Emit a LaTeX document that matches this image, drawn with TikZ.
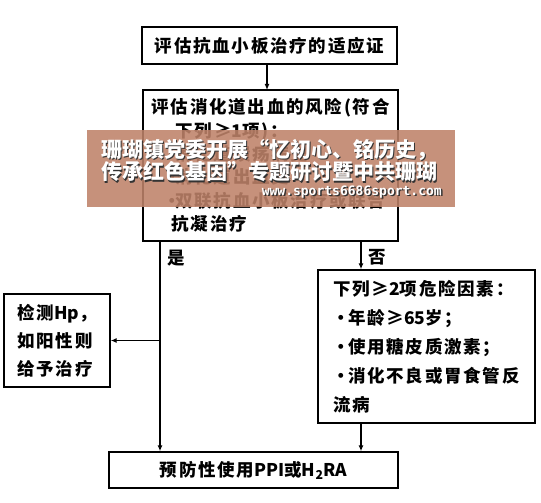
\documentclass[tikz,border=0pt]{standalone}
\usepackage{fontspec}
\usepackage{tikz}
\usetikzlibrary{arrows.meta}
\newfontfamily\cjk[LetterSpace=10]{Noto Sans CJK SC}
\newfontfamily\wmfont{Noto Sans CJK SC}
\newfontfamily\wmmono{DejaVu Sans Mono}
\newcommand\lat[1]{{\wmfont\bfseries #1}}
\definecolor{wmbrown}{RGB}{190,130,105}

\begin{document}
\begin{tikzpicture}[x=1pt,y=-1pt,
    every node/.style={font=\cjk\bfseries\fontsize{17.5}{23.4}\selectfont},
    box/.style={draw,line width=1.4pt,inner sep=0pt,align=left},
    arr/.style={line width=1.3pt,-{Latex[length=6pt,width=5pt]}},
    wmtext/.style={font=\wmfont\bfseries\fontsize{21}{21}\selectfont,inner sep=0pt}]
    \useasboundingbox (0,0) rectangle (541,503);

    \node[box,minimum width=255pt,minimum height=37pt] (assess) at (269.5,45.5) {评估抗血小板治疗的适应证};
    \node[box,minimum width=255pt,minimum height=151pt] (risk) at (270.5,165.5) {评估消化道出血的风险(符合\\
        \hspace*{24pt}下列≥\lat{1}项)：\\
        \hspace*{12pt}\makebox[12pt][l]{•}消化道溃疡病史\\
        \hspace*{12pt}\makebox[12pt][l]{•}消化道出血史\\
        \hspace*{12pt}\makebox[12pt][l]{•}双联抗血小板治疗或联合\\
        \hspace*{20pt}抗凝治疗};
    \node[box,minimum width=106pt,minimum height=93pt,font=\cjk\bfseries\fontsize{17.5}{28}\selectfont] (hp) at (57,340.5) {检测\lat{Hp}，\\如阳性则\\给予治疗};
    \node[box,minimum width=217pt,minimum height=153pt,font=\cjk\bfseries\fontsize{17.5}{29}\selectfont] (factors) at (426.5,346.5) {下列≥\lat{2}项危险因素：\\
        \makebox[15pt][c]{•}年龄≥\lat{65}岁；\\
        \makebox[15pt][c]{•}使用糖皮质激素；\\
        \makebox[15pt][c]{•}消化不良或胃食管反\\
        流病};
    \node[box,minimum width=289pt,minimum height=36pt] (prev) at (253.5,470) {预防性使用\lat{PPI}或\lat{H\textsubscript{2}RA}};

    \node (yeslbl) at (176,258) {是};
    \node (nolbl) at (377,257) {否};

    \coordinate (yes) at (160,241);
    \coordinate (no) at (361,241);
    \coordinate (hpjoin) at (160,340.5);

    \draw[arr] (assess.south -| 267,0) -- (267,90);
    \draw[arr] (yes) -- (prev.north -| yes);
    \draw[arr] (hpjoin) -- (hp.east);
    \draw[arr] (no) -- (factors.north -| no);
    \draw[arr] (factors.south -| no) -- (prev.north -| no);

    \fill[wmbrown,opacity=0.88] (87,130) rectangle (455,207);
    \node[wmtext,black!80,anchor=west] (wm1s) at (102.5,151.5) {珊瑚镇党委开展“忆初心、铭历史，};
    \node[wmtext,white,anchor=west] (wm1) at (101,150) {珊瑚镇党委开展“忆初心、铭历史，};
    \node[wmtext,black!80,anchor=west] (wm2s) at (102.5,173.5) {传承红色基因”专题研讨暨中共珊瑚};
    \node[wmtext,white,anchor=west] (wm2) at (101,172) {传承红色基因”专题研讨暨中共珊瑚};
    \node[black!80,anchor=east,inner sep=0pt,font=\wmmono\bfseries\fontsize{13}{13}\selectfont] (urls) at (443.5,193.5) {www.sports6686sport.com};
    \node[white,anchor=east,inner sep=0pt,font=\wmmono\bfseries\fontsize{13}{13}\selectfont] (url) at (442,192) {www.sports6686sport.com};
\end{tikzpicture}
\end{document}
